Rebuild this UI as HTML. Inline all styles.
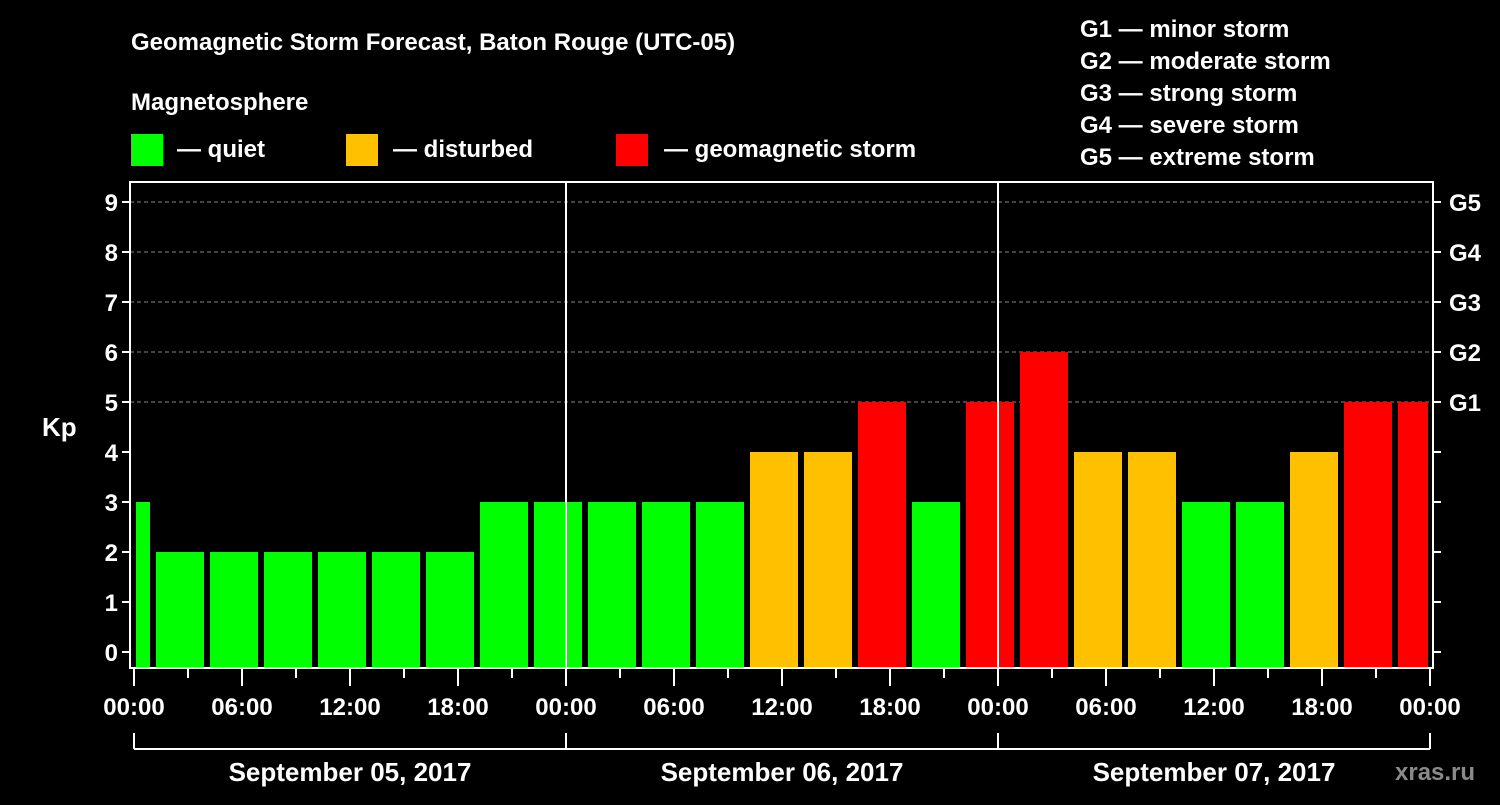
<!DOCTYPE html>
<html><head><meta charset="utf-8"><style>
html,body{margin:0;padding:0;background:#000;}
svg text{font-family:"Liberation Sans",Arial,sans-serif;font-weight:bold;fill:#fff;}
</style></head><body>
<svg id="chart" width="1500" height="800" viewBox="0 0 1500 800" xmlns="http://www.w3.org/2000/svg">
<rect width="1500" height="800" fill="#000"/>
<text x="131" y="50" font-size="24">Geomagnetic Storm Forecast, Baton Rouge (UTC-05)</text>
<text x="131" y="110" font-size="24">Magnetosphere</text>
<g><rect x="131" y="134" width="32" height="32" fill="#00ff00"/><text x="177" y="157" font-size="24">— quiet</text></g>
<g><rect x="346" y="134" width="32" height="32" fill="#ffc000"/><text x="393" y="157" font-size="24">— disturbed</text></g>
<g><rect x="616" y="134" width="32" height="32" fill="#ff0000"/><text x="664" y="157" font-size="24">— geomagnetic storm</text></g>
<g font-size="24">
<text x="1080" y="37">G1 — minor storm</text>
<text x="1080" y="69">G2 — moderate storm</text>
<text x="1080" y="101">G3 — strong storm</text>
<text x="1080" y="133">G4 — severe storm</text>
<text x="1080" y="165">G5 — extreme storm</text>
</g>
<text x="42" y="436" font-size="26">Kp</text>
<text x="1395" y="780" font-size="24" fill="#888" style="fill:#8a8a8a">xras.ru</text>
<g id="grid"></g><g id="bars"></g><g id="axes"></g>
</svg>
<script>
const kpValues=[3,2,2,2,2,2,2,3,3,3,3,3,4,4,5,3,5,6,4,4,3,3,4,5,5];
const barStartHours=[-2,1,4,7,10,13,16,19,22,25,28,31,34,37,40,43,46,49,52,55,58,61,64,67,70];
const yTicks=[0,1,2,3,4,5,6,7,8,9];
const gLabels=["","","","","","G1","G2","G3","G4","G5"];
const hourLabels=["00:00","06:00","12:00","18:00"];
const dayLabels=["September 05, 2017","September 06, 2017","September 07, 2017"];
const NS="http://www.w3.org/2000/svg";
const X0=134,X1=1430,H=72,L=130,R=1433,T=182,B=668;
const x=h=>X0+(X1-X0)*h/H;
const y=v=>652-50*v;
function mk(tag,attrs,parent){const e=document.createElementNS(NS,tag);for(const k in attrs)e.setAttribute(k,attrs[k]);document.getElementById(parent).appendChild(e);return e;}
function color(v){return v>=5?"#ff0000":v>=4?"#ffc000":"#00ff00";}
// grid
[5,6,7,8,9].forEach(v=>{const l=mk("line",{x1:L,x2:R,y1:y(v),y2:y(v),stroke:"#888","stroke-dasharray":"4,3","stroke-width":1},"grid");

});
// bars
kpValues.forEach((v,i)=>{let a=x(barStartHours[i])+4,b=x(barStartHours[i]+3)-2;a=Math.max(a,136);b=Math.min(b,1428);
const r=mk("rect",{x:a,y:y(v),width:b-a,height:B-1-y(v),fill:color(v)},"bars");

});
// axes frame
const f=mk("rect",{x:L,y:T,width:R-L,height:B-T,fill:"none",stroke:"#fff","stroke-width":2},"axes");


[24,48].forEach(h=>{const l=mk("line",{x1:x(h),x2:x(h),y1:T,y2:B,stroke:"#fff","stroke-width":2},"axes");

});
yTicks.forEach(v=>{
mk("line",{x1:L-8,x2:L,y1:y(v),y2:y(v),stroke:"#fff","stroke-width":2},"axes");
mk("line",{x1:R,x2:R+8,y1:y(v),y2:y(v),stroke:"#fff","stroke-width":2},"axes");
const t=mk("text",{x:L-12,y:y(v)+9,"text-anchor":"end","font-size":24},"axes");t.textContent=v;


if(gLabels[v]){const g=mk("text",{x:R+16,y:y(v)+9,"font-size":24},"axes");g.textContent=gLabels[v];

}
});
for(let h=0;h<=H;h+=3){mk("line",{x1:x(h),x2:x(h),y1:B+1,y2:B+(h%6==0?18:10),stroke:"#fff","stroke-width":2},"axes");
if(h%6==0){const t=mk("text",{x:x(h),y:B+47,"text-anchor":"middle","font-size":24},"axes");t.textContent=hourLabels[(h/6)%4];

}}
const bl=mk("line",{x1:x(0),x2:x(72),y1:749,y2:749,stroke:"#fff","stroke-width":2},"axes");


[0,24,48,72].forEach(h=>mk("line",{x1:x(h),x2:x(h),y1:733,y2:749,stroke:"#fff","stroke-width":2},"axes"));
dayLabels.forEach((d,i)=>{const t=mk("text",{x:x(i*24+12),y:781,"text-anchor":"middle","font-size":26},"axes");t.textContent=d;

});
</script>
</body></html>
